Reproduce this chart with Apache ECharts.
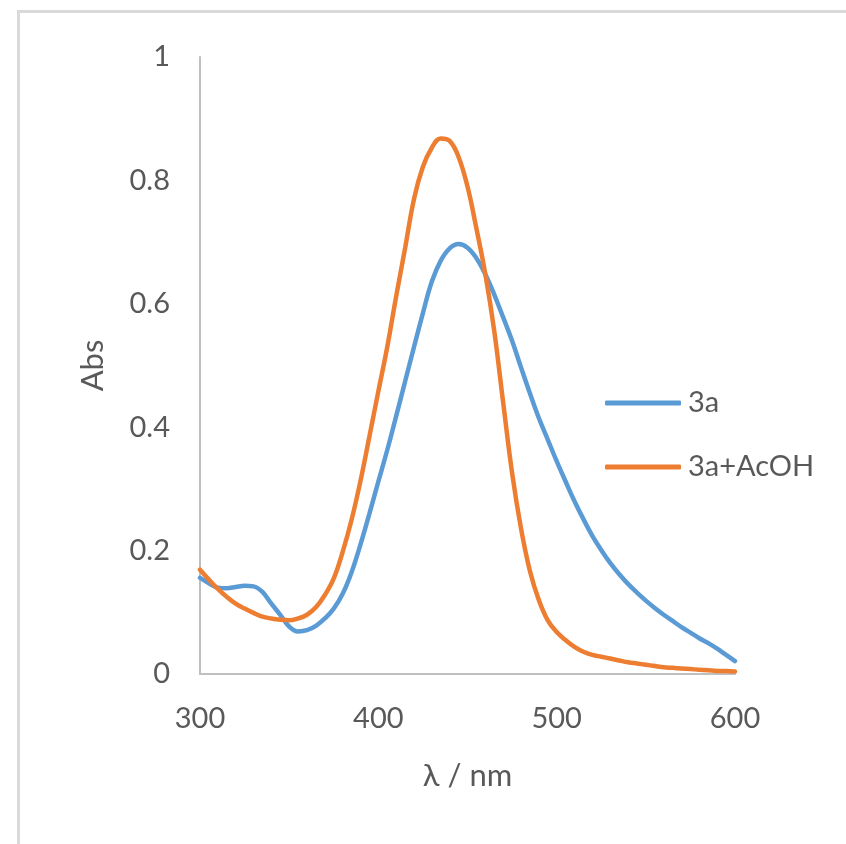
<!DOCTYPE html>
<html>
<head>
<meta charset="utf-8">
<script src="https://cdn.jsdelivr.net/npm/echarts@6/dist/echarts.min.js"></script>
<style>
html,body{margin:0;padding:0;background:#fff;}
#chart{width:846px;height:844px;}
</style>
</head>
<body>
<div id="chart"></div>
<script>
const wavelengths = [300,305,310,315,320,325,330,335,340,345,350,355,360,365,370,375,380,385,390,395,400,405,410,415,420,425,430,435,440,445,450,455,460,465,470,475,480,485,490,495,500,505,510,515,520,525,530,535,540,545,550,555,560,565,570,575,580,585,590,595,600];
const abs3a = [0.156,0.147,0.140,0.139,0.141,0.143,0.142,0.133,0.114,0.096,0.077,0.069,0.071,0.078,0.090,0.106,0.130,0.165,0.210,0.260,0.312,0.363,0.418,0.474,0.530,0.585,0.636,0.670,0.690,0.697,0.691,0.674,0.648,0.615,0.578,0.540,0.497,0.455,0.415,0.380,0.345,0.312,0.280,0.251,0.224,0.201,0.180,0.162,0.146,0.132,0.119,0.107,0.096,0.086,0.076,0.067,0.058,0.050,0.041,0.031,0.021];
const abs3aAcOH = [0.169,0.153,0.138,0.125,0.114,0.106,0.099,0.093,0.090,0.088,0.087,0.090,0.096,0.108,0.128,0.155,0.198,0.250,0.313,0.385,0.458,0.530,0.612,0.690,0.770,0.822,0.853,0.868,0.864,0.838,0.790,0.722,0.648,0.556,0.440,0.326,0.236,0.167,0.120,0.087,0.068,0.055,0.044,0.036,0.031,0.028,0.025,0.022,0.019,0.017,0.015,0.013,0.011,0.010,0.009,0.008,0.007,0.006,0.005,0.005,0.004];
const seriesNames = ['3a','3a+AcOH'];
const xTitle = 'λ / nm';
const yTitle = 'Abs';

const font = 'Lato, "Open Sans", sans-serif';
const textColor = '#595959';
const chart = echarts.init(document.getElementById('chart'));
chart.setOption({
  backgroundColor: '#ffffff',
  animation: false,
  graphic: [{
    type: 'rect',
    shape: {x: 18.5, y: 11.5, width: 900, height: 900},
    style: {fill: 'none', stroke: '#d9d9d9', lineWidth: 3},
    silent: true
  }],
  grid: {left: 200, right: 111, top: 57, bottom: 170, containLabel: false},
  legend: {
    orient: 'vertical',
    left: 600,
    top: 383,
    icon: 'roundRect',
    itemWidth: 76,
    itemHeight: 5,
    itemGap: 34,
    data: seriesNames,
    textStyle: {color: textColor, fontFamily: font, fontSize: 29, lineHeight: 30, padding: [0,0,0,2]}
  },
  xAxis: {
    type: 'value',
    min: 300, max: 600, interval: 100,
    name: xTitle,
    nameLocation: 'middle',
    nameGap: 86,
    nameTextStyle: {color: textColor, fontFamily: font, fontSize: 31},
    axisLine: {lineStyle: {color: '#bfbfbf', width: 2}},
    axisTick: {show: false},
    splitLine: {show: false},
    axisLabel: {color: textColor, fontFamily: font, fontSize: 29, margin: 30}
  },
  yAxis: {
    type: 'value',
    min: 0, max: 1, interval: 0.2,
    name: yTitle,
    nameLocation: 'middle',
    nameGap: 92,
    nameTextStyle: {color: textColor, fontFamily: font, fontSize: 31},
    axisLine: {show: true, lineStyle: {color: '#bfbfbf', width: 2}},
    axisTick: {show: false},
    splitLine: {show: false},
    axisLabel: {color: textColor, fontFamily: font, fontSize: 29, margin: 30}
  },
  series: [
    {
      name: seriesNames[0], type: 'line', smooth: 0.4, symbol: 'none',
      data: wavelengths.map((w,i)=>[w, abs3a[i]]),
      lineStyle: {color: '#5B9BD5', width: 4.5, cap: 'round'},
      itemStyle: {color: '#5B9BD5'}
    },
    {
      name: seriesNames[1], type: 'line', smooth: 0.4, symbol: 'none',
      data: wavelengths.map((w,i)=>[w, abs3aAcOH[i]]),
      lineStyle: {color: '#ED7D31', width: 4.5, cap: 'round'},
      itemStyle: {color: '#ED7D31'}
    }
  ]
});
</script>
</body>
</html>
